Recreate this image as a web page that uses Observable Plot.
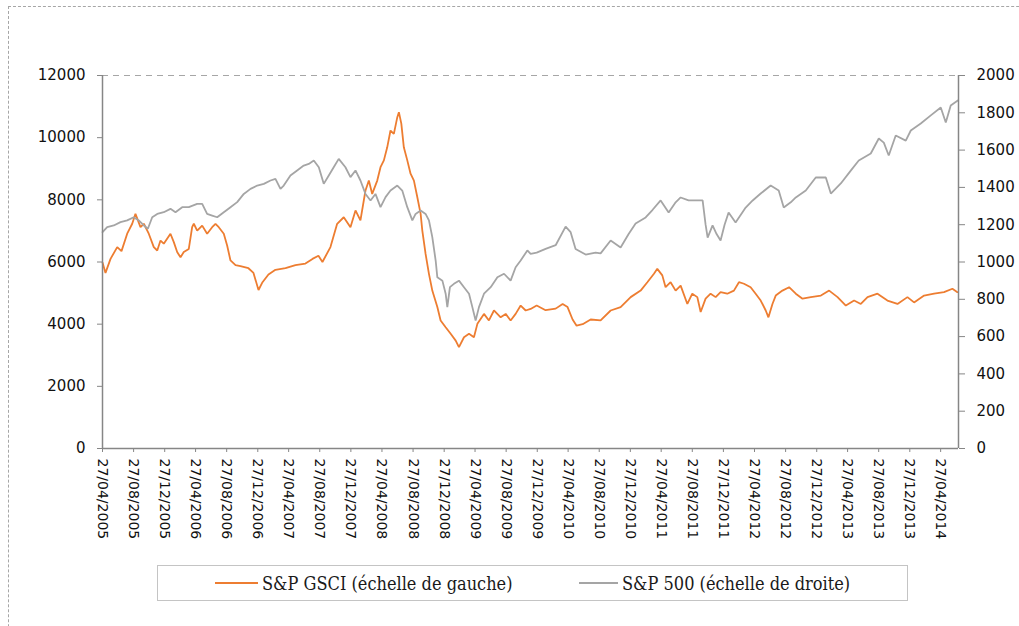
<!DOCTYPE html>
<html>
<head>
<meta charset="utf-8">
<script src="https://cdn.jsdelivr.net/npm/d3@7"></script>
<script src="https://cdn.jsdelivr.net/npm/@observablehq/plot@0.6"></script>
<style>
  html, body { margin: 0; padding: 0; background: #fff; overflow: hidden; }
  #wrap { position: relative; width: 1019px; height: 626px; }
  #frame { position: absolute; left: 8px; top: 6px; width: 1100px; height: 700px;
           border-left: 1.5px dashed #a6a6a6; border-top: 1.5px dashed #a6a6a6; }
  #chart { position: absolute; left: 0; top: 0; }
  #legend { position: absolute; left: 157px; top: 565px; width: 749px; height: 34px;
            border: 1.5px solid #c4c4c4; background: #fff;
            font-family: "DejaVu Serif Condensed", "Liberation Serif", serif; font-size: 18px; color: #1a1a1a; }
  .item { position: absolute; top: 0; height: 34px; display: flex; align-items: center; white-space: nowrap; }
  .swatch { display: inline-block; height: 0; margin-right: 4px; }
</style>
</head>
<body>
<div id="wrap">
  <div id="frame"></div>
  <div id="chart"></div>
  <div id="legend"></div>
</div>
<script>
// ---- Data (times are decimal years) ----
const seriesNames = ["S&P GSCI (échelle de gauche)", "S&P 500 (échelle de droite)"];
const seriesColors = ["#ED7D31", "#A5A5A5"];

const gsciTimes = [2005.318,2005.350,2005.404,2005.476,2005.522,2005.583,2005.637,2005.672,2005.726,2005.762,2005.815,2005.869,2005.906,2005.941,2005.976,2006.048,2006.084,2006.120,2006.156,2006.191,2006.245,2006.281,2006.299,2006.335,2006.389,2006.442,2006.496,2006.532,2006.567,2006.621,2006.657,2006.693,2006.747,2006.800,2006.886,2006.940,2006.994,2007.037,2007.101,2007.176,2007.284,2007.391,2007.498,2007.574,2007.638,2007.681,2007.767,2007.839,2007.910,2007.982,2008.036,2008.089,2008.143,2008.179,2008.215,2008.269,2008.304,2008.340,2008.376,2008.411,2008.447,2008.484,2008.501,2008.527,2008.554,2008.591,2008.626,2008.662,2008.698,2008.734,2008.752,2008.787,2008.823,2008.859,2008.913,2008.948,2009.002,2009.056,2009.110,2009.145,2009.199,2009.253,2009.306,2009.343,2009.414,2009.467,2009.521,2009.593,2009.647,2009.700,2009.754,2009.808,2009.862,2009.915,2009.980,2010.076,2010.184,2010.259,2010.312,2010.366,2010.409,2010.474,2010.560,2010.667,2010.775,2010.882,2010.990,2011.097,2011.169,2011.240,2011.276,2011.330,2011.365,2011.419,2011.473,2011.527,2011.599,2011.652,2011.706,2011.742,2011.795,2011.849,2011.903,2011.956,2012.028,2012.099,2012.153,2012.207,2012.278,2012.332,2012.386,2012.440,2012.469,2012.512,2012.547,2012.619,2012.690,2012.762,2012.834,2012.923,2013.031,2013.120,2013.210,2013.299,2013.388,2013.460,2013.532,2013.639,2013.746,2013.854,2013.961,2014.032,2014.140,2014.247,2014.354,2014.444,2014.498];
const gsciValues = [5980,5650,6100,6480,6350,6910,7230,7550,7120,7230,6910,6480,6370,6690,6590,6910,6640,6320,6150,6320,6420,7120,7230,7010,7170,6910,7120,7230,7120,6910,6530,6050,5900,5870,5800,5650,5100,5350,5600,5750,5800,5900,5950,6100,6200,6000,6480,7230,7440,7120,7660,7340,8300,8620,8190,8620,9050,9270,9690,10230,10120,10660,10820,10450,9690,9270,8840,8620,8090,7550,7010,6260,5620,5080,4550,4120,3900,3690,3470,3260,3580,3690,3580,4010,4330,4120,4440,4220,4330,4120,4330,4600,4440,4490,4600,4450,4500,4650,4550,4150,3950,4000,4150,4120,4440,4550,4870,5080,5350,5620,5780,5570,5190,5350,5080,5240,4650,4980,4870,4390,4820,4980,4870,5030,4980,5080,5350,5300,5190,4980,4760,4440,4220,4650,4920,5080,5190,4980,4820,4870,4920,5080,4870,4600,4760,4650,4870,4980,4760,4650,4870,4700,4920,4980,5030,5140,5030];

const spTimes = [2005.318,2005.368,2005.439,2005.511,2005.583,2005.654,2005.708,2005.762,2005.805,2005.852,2005.906,2005.976,2006.048,2006.102,2006.174,2006.245,2006.335,2006.389,2006.442,2006.496,2006.550,2006.621,2006.693,2006.765,2006.836,2006.908,2006.980,2007.051,2007.123,2007.176,2007.230,2007.265,2007.337,2007.409,2007.480,2007.534,2007.588,2007.642,2007.695,2007.749,2007.802,2007.856,2007.928,2007.982,2008.036,2008.089,2008.143,2008.197,2008.250,2008.304,2008.358,2008.411,2008.484,2008.537,2008.591,2008.645,2008.680,2008.734,2008.787,2008.823,2008.859,2008.895,2008.913,2008.967,2009.002,2009.020,2009.048,2009.091,2009.145,2009.199,2009.253,2009.289,2009.324,2009.360,2009.414,2009.486,2009.558,2009.629,2009.700,2009.754,2009.808,2009.880,2009.915,2009.980,2010.076,2010.184,2010.291,2010.345,2010.398,2010.506,2010.613,2010.667,2010.775,2010.882,2010.968,2011.043,2011.151,2011.226,2011.312,2011.398,2011.473,2011.527,2011.612,2011.688,2011.763,2011.795,2011.817,2011.870,2011.913,2011.956,2011.999,2012.042,2012.117,2012.225,2012.300,2012.386,2012.493,2012.579,2012.633,2012.708,2012.762,2012.869,2012.976,2013.084,2013.138,2013.245,2013.352,2013.438,2013.567,2013.653,2013.707,2013.760,2013.835,2013.943,2013.997,2014.104,2014.212,2014.319,2014.373,2014.426,2014.502];
const spValues = [1160,1187,1196,1214,1223,1240,1223,1196,1178,1240,1258,1267,1285,1267,1294,1294,1312,1312,1258,1249,1240,1267,1294,1321,1365,1392,1410,1419,1437,1446,1392,1410,1464,1491,1517,1526,1544,1508,1419,1464,1508,1553,1508,1455,1491,1437,1365,1330,1365,1294,1348,1383,1410,1383,1294,1223,1258,1276,1258,1223,1133,1008,918,900,830,758,865,883,900,865,830,758,686,758,830,865,918,937,900,972,1008,1062,1044,1050,1070,1090,1190,1160,1070,1040,1050,1046,1115,1078,1150,1206,1239,1280,1330,1265,1320,1346,1330,1330,1330,1200,1131,1196,1150,1115,1200,1265,1212,1292,1330,1367,1410,1383,1292,1320,1346,1383,1453,1453,1367,1421,1490,1544,1582,1662,1640,1571,1678,1651,1705,1743,1786,1828,1748,1839,1866];

const leftTicks = [0,2000,4000,6000,8000,10000,12000];
const rightTicks = [0,200,400,600,800,1000,1200,1400,1600,1800,2000];
const xTickLabels = ["27/04/2005","27/08/2005","27/12/2005","27/04/2006","27/08/2006","27/12/2006","27/04/2007","27/08/2007","27/12/2007","27/04/2008","27/08/2008","27/12/2008","27/04/2009","27/08/2009","27/12/2009","27/04/2010","27/08/2010","27/12/2010","27/04/2011","27/08/2011","27/12/2011","27/04/2012","27/08/2012","27/12/2012","27/04/2013","27/08/2013","27/12/2013","27/04/2014"];
const xStart = "2005-04-27", xEnd = "2014-07-06";

// ---- Build ----
const parse = d3.utcParse("%Y-%m-%d");
const parseTick = d3.utcParse("%d/%m/%Y");
const fmtTick = d3.utcFormat("%d/%m/%Y");
function fromDecimalYear(t) {
  const y = Math.floor(t);
  const a = Date.UTC(y, 0, 1), b = Date.UTC(y + 1, 0, 1);
  return new Date(a + (t - y) * (b - a));
}
const ratio = leftTicks[leftTicks.length - 1] / rightTicks[rightTicks.length - 1];

const gsci = gsciTimes.map((t, i) => ({date: fromDecimalYear(t), value: gsciValues[i]}));
const sp = spTimes.map((t, i) => ({date: fromDecimalYear(t), value: spValues[i]}));
const xTicks = xTickLabels.map(parseTick);
const x0 = parse(xStart), x1 = parse(xEnd);
const axisColor = "#868686";
const textColor = "#111";

const chart = Plot.plot({
  width: 1019,
  height: 555,
  marginLeft: 102,
  marginRight: 61,
  marginTop: 75,
  marginBottom: 107,
  x: {type: "utc", domain: [x0, x1]},
  y: {domain: [0, 12000]},
  style: {fontFamily: "DejaVu Sans, Verdana, sans-serif", fontSize: "15px", color: textColor, background: "transparent", overflow: "visible"},
  marks: [
    Plot.ruleY([leftTicks[leftTicks.length - 1]], {stroke: "#a6a6a6", strokeWidth: 1.2, strokeDasharray: "6,5"}),
    Plot.line(gsci, {x: "date", y: "value", stroke: seriesColors[0], strokeWidth: 1.8, strokeLinejoin: "miter"}),
    Plot.line(sp, {x: "date", y: d => d.value * ratio, stroke: seriesColors[1], strokeWidth: 1.8, strokeLinejoin: "miter"}),
    Plot.ruleX([x0], {stroke: axisColor, strokeWidth: 1.5}),
    Plot.ruleX([x1], {stroke: axisColor, strokeWidth: 1.5}),
    Plot.ruleY([0], {stroke: axisColor, strokeWidth: 1.5}),
    Plot.axisY(leftTicks, {anchor: "left", tickSize: 5, tickPadding: 12, stroke: axisColor, fill: textColor, label: null, tickFormat: d => String(d)}),
    Plot.axisY(rightTicks.map(v => v * ratio), {anchor: "right", tickSize: 6, tickPadding: 12, stroke: axisColor, fill: textColor, label: null, tickFormat: d => String(d / ratio)}),
    Plot.axisX(xTicks, {anchor: "bottom", tickSize: 4, tickPadding: 6, tickRotate: 90, stroke: axisColor, fill: textColor, label: null, tickFormat: fmtTick, fontSize: 14})
  ]
});
document.getElementById("chart").appendChild(chart);

// ---- Legend ----
const legend = document.getElementById("legend");
const lefts = [57, 421];
const swatchW = [43, 39];
seriesNames.forEach((name, i) => {
  const item = document.createElement("div");
  item.className = "item";
  item.style.left = lefts[i] + "px";
  const sw = document.createElement("span");
  sw.className = "swatch";
  sw.style.width = swatchW[i] + "px";
  sw.style.borderTop = "2px solid " + seriesColors[i];
  const tx = document.createElement("span");
  tx.textContent = name;
  item.appendChild(sw);
  item.appendChild(tx);
  legend.appendChild(item);
});
</script>
</body>
</html>
